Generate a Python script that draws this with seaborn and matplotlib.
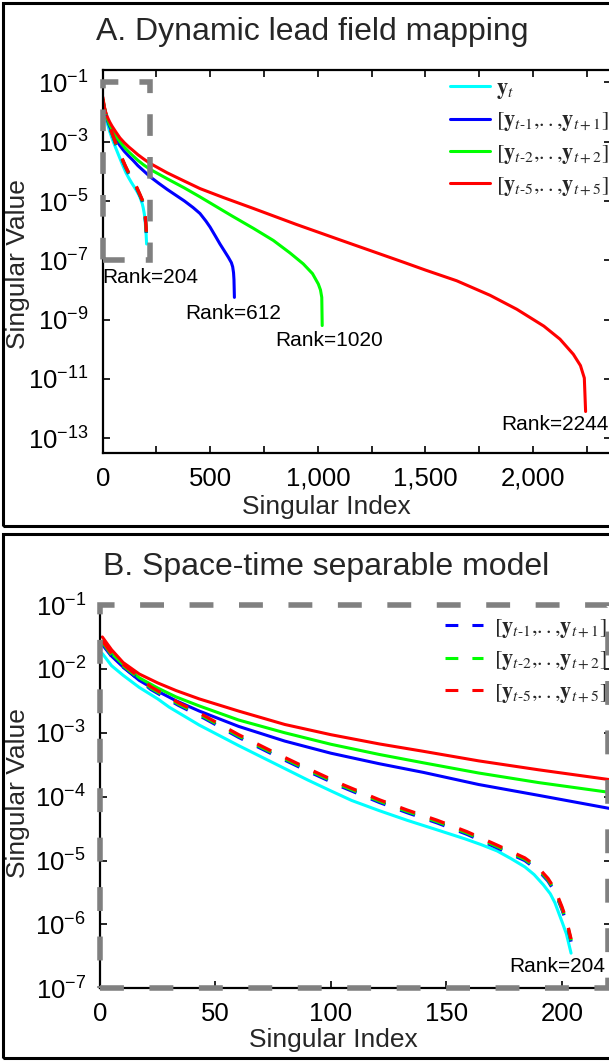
import numpy as np
import pandas as pd
import matplotlib
matplotlib.use("Agg")
import matplotlib.pyplot as plt
import seaborn as sns
from matplotlib.patches import Rectangle
from matplotlib.lines import Line2D
from matplotlib.ticker import FixedLocator, NullLocator, LogFormatterSciNotation, FuncFormatter

# ---------------- data (log10 of singular values) -------------
cyan_idx = [1, 5, 10, 17, 25, 30, 43, 60, 75, 90, 100, 109, 121, 133, 146, 158, 165, 172, 178, 184, 188, 192,
            195, 197, 200, 202, 204]
cyan_log = [-1.76, -1.95, -2.10, -2.29, -2.47, -2.60, -2.88, -3.20, -3.47, -3.74, -3.91, -4.06, -4.22, -4.37,
            -4.52, -4.66, -4.75, -4.85, -4.97, -5.10, -5.22, -5.38, -5.52, -5.66, -5.95, -6.15, -6.45]

blue_idx = [1, 5, 10, 17, 25, 33, 43, 60, 80, 100, 121, 140, 164, 190, 220, 260, 300, 380, 420, 452, 480, 499,
            525, 545, 565, 584, 598, 604, 608, 610, 612]
blue_log = [-1.62, -1.80, -1.97, -2.18, -2.35, -2.50, -2.66, -2.90, -3.13, -3.32, -3.485, -3.62, -3.81, -3.98,
            -4.18, -4.40, -4.61, -5.00, -5.22, -5.42, -5.68, -5.88, -6.20, -6.45, -6.68, -6.90, -7.08, -7.22,
            -7.42, -7.65, -8.25]

green_idx = [1, 5, 10, 17, 25, 33, 43, 60, 80, 100, 121, 140, 164, 190, 220, 300, 380, 452, 600, 700, 793, 870,
             932, 975, 1002, 1012, 1018, 1020]
green_log = [-1.57, -1.76, -1.93, -2.14, -2.30, -2.44, -2.58, -2.80, -3.00, -3.18, -3.34, -3.47, -3.63, -3.78,
             -3.93, -4.25, -4.56, -4.86, -5.50, -5.92, -6.33, -6.75, -7.12, -7.45, -7.80, -8.00, -8.25, -9.20]

red_idx = [1, 5, 10, 17, 25, 33, 43, 60, 80, 100, 121, 140, 164, 190, 220, 300, 380, 452, 560, 700, 900, 1110,
           1400, 1500, 1645, 1800, 1924, 2050, 2125, 2187, 2220, 2238, 2244]
red_log = [-1.50, -1.70, -1.90, -2.08, -2.22, -2.34, -2.47, -2.66, -2.87, -3.03, -3.175, -3.29, -3.44, -3.58,
           -3.73, -4.05, -4.33, -4.58, -4.88, -5.25, -5.79, -6.33, -7.07, -7.33, -7.69, -8.18, -8.65, -9.22,
           -9.66, -10.17, -10.55, -10.97, -12.10]

# space-time separable model (dashed), rank 204
sep_idx = [1, 5, 10, 17, 22, 34, 45, 60, 75, 90, 105, 121, 133, 146, 159, 172, 184, 190, 194, 197, 200, 202, 204]
sep_red_log = [-1.56, -1.76, -1.93, -2.13, -2.28, -2.53, -2.73, -3.03, -3.30, -3.56, -3.81, -4.05, -4.21,
               -4.37, -4.55, -4.76, -4.96, -5.12, -5.28, -5.45, -5.72, -5.93, -6.23]
sep_green_log = [-1.58, -1.78, -1.95, -2.15, -2.30, -2.55, -2.75, -3.05, -3.32, -3.58, -3.83, -4.07, -4.23,
                 -4.39, -4.57, -4.78, -4.98, -5.14, -5.30, -5.47, -5.74, -5.95, -6.25]
sep_blue_log = [-1.60, -1.80, -1.97, -2.17, -2.32, -2.57, -2.77, -3.07, -3.34, -3.60, -3.85, -4.09, -4.25,
                -4.41, -4.59, -4.80, -5.00, -5.16, -5.32, -5.49, -5.76, -5.97, -6.27]

legend_A = [r"$\mathbf{y}_{t}$",
            r"$[\mathbf{y}_{t\text{-}1}{,}{.}{.}{,}\mathbf{y}_{t+1}]$",
            r"$[\mathbf{y}_{t\text{-}2}{,}{.}{.}{,}\mathbf{y}_{t+2}]$",
            r"$[\mathbf{y}_{t\text{-}5}{,}{.}{.}{,}\mathbf{y}_{t+5}]$"]
legend_B = legend_A[1:]

ranks_A = [("Rank=204", 0, -7.59, "left"), ("Rank=612", 605, -8.80, "center"),
           ("Rank=1020", 1051, -9.72, "center"), ("Rank=2244", 2103, -12.53, "center")]
rank_B = ("Rank=204", 198, -6.66)

xticks_A = [0, 500, 1000, 1500, 2000]
xticks_B = [0, 50, 100, 150, 200]
yticks_A = [1e-1, 1e-3, 1e-5, 1e-7, 1e-9, 1e-11, 1e-13]
yticks_B = [1e-1, 1e-2, 1e-3, 1e-4, 1e-5, 1e-6, 1e-7]
zoom_box = (0, 220, 1e-7, 1e-1)

# ---------------- style -------------
sns.set_theme(style="ticks")
plt.rcParams["font.family"] = ["Liberation Sans", "DejaVu Sans"]
plt.rcParams["mathtext.fontset"] = "stix"
plt.rcParams["axes.unicode_minus"] = True

CYAN, BLUE, GREEN, RED, GRAY = "#00FFFF", "#0000FF", "#00FF00", "#FF0000", "#808080"
W, H = 609, 1061
fig = plt.figure(figsize=(W / 100, H / 100), dpi=100)


def fx(px):
    return px / W


def fy(py):
    return 1 - py / H


axA = fig.add_axes([fx(102.7), fy(452.7), fx(611 - 102.7), fy(70) - fy(452.7)])
axB = fig.add_axes([fx(100), fy(988.3), fx(611 - 100), fy(605) - fy(988.3)])

LW = 2.2


def draw(ax, idx, logv, color, dashed=False):
    df = pd.DataFrame({"idx": idx, "sv": 10.0 ** np.asarray(logv)})
    n0 = len(ax.lines)
    sns.lineplot(data=df, x="idx", y="sv", ax=ax, color=color, lw=2.4 if dashed else LW,
                 legend=False, estimator=None, sort=False)
    ln = ax.lines[n0]
    if dashed:
        ln.set_dashes([4.7, 4.7])
        ln.set_dash_capstyle("butt")
    return ln


for ax in (axA, axB):
    draw(ax, cyan_idx, cyan_log, CYAN)
    draw(ax, blue_idx, blue_log, BLUE)
    draw(ax, green_idx, green_log, GREEN)
    draw(ax, red_idx, red_log, RED)
    draw(ax, sep_idx, sep_blue_log, BLUE, dashed=True)
    draw(ax, sep_idx, sep_green_log, GREEN, dashed=True)
    draw(ax, sep_idx, sep_red_log, RED, dashed=True)
    ax.set_yscale("log")
    ax.set_xlabel("")
    ax.set_ylabel("")

# ---- panel A axes
axA.set_xlim(0, 2362)
axA.set_ylim(10 ** -13.49, 10 ** -0.58)
axA.xaxis.set_major_locator(FixedLocator(xticks_A))
axA.xaxis.set_minor_locator(FixedLocator([250, 750, 1250, 1750, 2250]))
axA.xaxis.set_major_formatter(FuncFormatter(lambda v, p: f"{int(v):,}"))
axA.yaxis.set_major_locator(FixedLocator(yticks_A))
axA.yaxis.set_minor_locator(NullLocator())
axA.yaxis.set_major_formatter(LogFormatterSciNotation())
for s in axA.spines.values():
    s.set_linewidth(1.6)
    s.set_color("black")
axA.tick_params(which="both", direction="in", length=5, width=1.2, top=True, right=True,
                labelsize=18.5, pad=10, colors="black")

# ---- panel B axes
axB.set_xlim(0, 221.3)
axB.set_ylim(1e-7, 1e-1)
axB.xaxis.set_major_locator(FixedLocator(xticks_B))
axB.xaxis.set_minor_locator(NullLocator())
axB.yaxis.set_major_locator(FixedLocator(yticks_B))
axB.yaxis.set_minor_locator(NullLocator())
axB.yaxis.set_major_formatter(LogFormatterSciNotation())
axB.spines["top"].set_visible(False)
axB.spines["right"].set_visible(False)
for s in ("left", "bottom"):
    axB.spines[s].set_linewidth(1.6)
    axB.spines[s].set_color("black")
axB.tick_params(which="both", direction="in", length=5, width=1.2, top=False, right=True,
                labelsize=18.5, pad=10, colors="black")

# ---- gray dashed zoom boxes
x0, x1, y0, y1 = zoom_box
axA.add_patch(Rectangle((x0, y0), x1 - x0, y1 - y0, fill=False, ec=GRAY, lw=4.0,
                        ls=(0, (3.9, 3.8)), clip_on=False, zorder=6, capstyle="butt"))
axB.add_patch(Rectangle((x0, y0), x1 - x0, y1 - y0, fill=False, ec=GRAY, lw=4.0,
                        ls=(0, (4.3, 4.6)), clip_on=False, zorder=6, capstyle="butt"))

# ---- rank annotations
for txt, xi, lv, ha in ranks_A:
    axA.text(xi, 10 ** lv, txt, fontsize=15, ha=ha, va="center", color="black")
axB.text(rank_B[1], 10 ** rank_B[2], rank_B[0], fontsize=15, ha="center", va="center", color="black")

# ---- legends
hA = [Line2D([], [], color=c, lw=LW) for c in (CYAN, BLUE, GREEN, RED)]
legA = axA.legend(hA, legend_A, loc="upper left", bbox_to_anchor=(fx(450), fy(78)),
                  bbox_transform=fig.transFigure, frameon=False, fontsize=16, handlelength=1.8,
                  handletextpad=0.25, labelspacing=0.42, borderpad=0, borderaxespad=0)
hB = [Line2D([], [], color=c, lw=LW, dashes=[4.2, 4.6]) for c in (BLUE, GREEN, RED)]
legB = axB.legend(hB, legend_B, loc="upper left", bbox_to_anchor=(fx(445), fy(617)),
                  bbox_transform=fig.transFigure, frameon=False, fontsize=16, handlelength=1.72,
                  handletextpad=0.5, labelspacing=0.42, borderpad=0, borderaxespad=0)

# ---- axis labels
for ax, xc, yc_x, yc_y in ((axA, 326, 507, 264), (axB, 333, 1040, 793)):
    ax.set_xlabel("Singular Index", fontsize=19)
    ax.set_ylabel("Singular Value", fontsize=19)
    bb = ax.get_position()
    ax.xaxis.set_label_coords((fx(xc) - bb.x0) / bb.width, (fy(yc_x) - bb.y0) / bb.height)
    ax.xaxis.label.set_va("center")
    ax.yaxis.set_label_coords((fx(18) - bb.x0) / bb.width, (fy(yc_y) - bb.y0) / bb.height)
    ax.yaxis.label.set_va("center")

# ---- titles
fig.text(fx(312), fy(32), "A. Dynamic lead field mapping", fontsize=23, ha="center", va="center")
fig.text(fx(326), fy(567), "B. Space-time separable model", fontsize=23, ha="center", va="center")

# ---- panel frames
fig.add_artist(Rectangle((fx(2.5), fy(526)), fx(620), fy(2.5) - fy(526), transform=fig.transFigure,
                         fill=False, ec="black", lw=2.2, clip_on=False))
fig.add_artist(Rectangle((fx(2.5), fy(1057.5)), fx(620), fy(534) - fy(1057.5), transform=fig.transFigure,
                         fill=False, ec="black", lw=2.2, clip_on=False))

fig.savefig("out.png", dpi=100)
